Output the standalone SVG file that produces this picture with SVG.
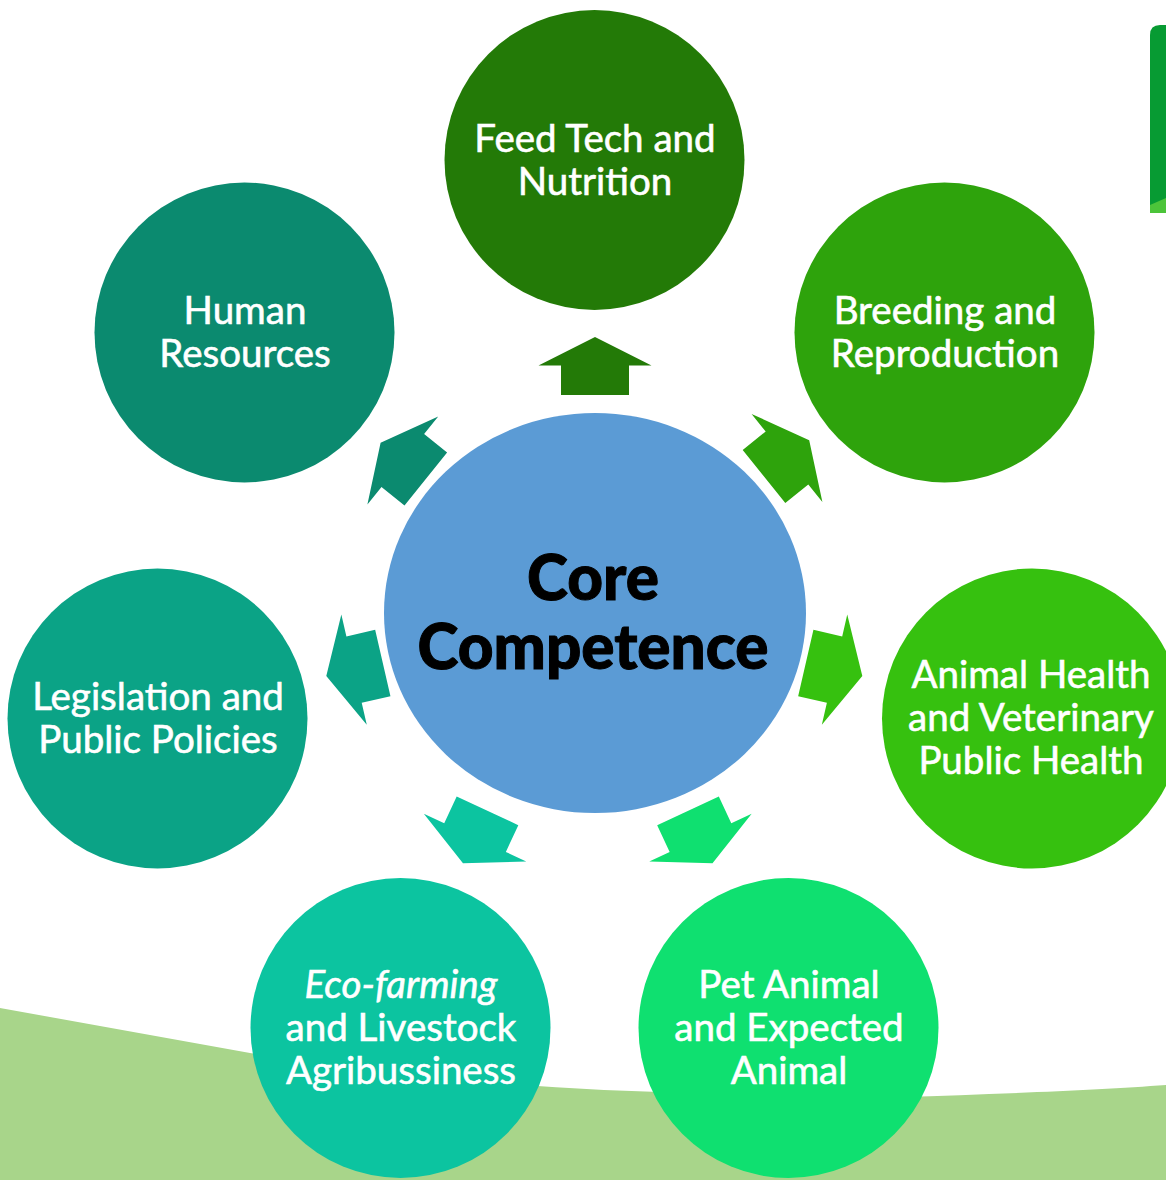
<svg xmlns="http://www.w3.org/2000/svg" width="1166" height="1180" viewBox="0 0 1166 1180">
<style>
.lbl{font-family:Lato,"Noto Sans","DejaVu Sans",sans-serif;font-size:38.5px;fill:#ffffff;stroke:#ffffff;stroke-width:0.6px;text-anchor:middle}
.core{font-family:Lato,"Noto Sans","DejaVu Sans",sans-serif;font-size:62px;font-weight:900;fill:#000000;stroke:#000000;stroke-width:1px;text-anchor:middle}
</style>
<defs>
<path id="arr" d="M-34,0 L-34,-29.5 L-56.5,-29.5 L0,-58 L56.5,-29.5 L34,-29.5 L34,0 Z"/>
</defs>
<rect width="1166" height="1180" fill="#ffffff"/>
<path d="M0,1008 L250,1053 C400,1078 550,1090 700,1093 L900,1097 C1000,1094 1100,1090 1166,1085 L1166,1180 L0,1180 Z" fill="#a8d58a"/>
<path d="M1150,35 Q1150,25 1160,25 L1166,25 L1166,213 L1150,213 Z" fill="#079b33"/>
<path d="M1150,213 L1150,205 L1166,198 L1166,213 Z" fill="#4cc43a"/>
<g id="connectors">
<use href="#arr" transform="translate(595,395)" fill="#237a07"/>
<use href="#arr" transform="translate(764,476.5) rotate(51.2)" fill="#2ea30c"/>
<use href="#arr" transform="translate(425.8,479) rotate(-51.2)" fill="#0b8a6f"/>
<use href="#arr" transform="translate(382.8,663) rotate(-103)" fill="#0ba386"/>
<use href="#arr" transform="translate(805.8,663) rotate(103)" fill="#36c10f"/>
<use href="#arr" transform="translate(487.5,810.8) rotate(-155)" fill="#0cc4a0"/>
<use href="#arr" transform="translate(688,810.8) rotate(155)" fill="#0fe070"/>
</g>
<g id="core">
<ellipse cx="595" cy="613" rx="211" ry="200" fill="#5b9bd5"/>
<text class="core" x="593" y="600">Core</text>
<text class="core" x="593" y="669">Competence</text>
</g>
<g id="feed">
<circle cx="594.5" cy="160" r="150" fill="#237a07"/>
<text class="lbl" x="595" y="152">Feed Tech and</text>
<text class="lbl" x="595" y="195">Nutrition</text>
</g>
<g id="breeding">
<circle cx="944.5" cy="332.5" r="150" fill="#2ea30c"/>
<text class="lbl" x="945" y="324">Breeding and</text>
<text class="lbl" x="945" y="367">Reproduction</text>
</g>
<g id="human">
<circle cx="244.5" cy="332.5" r="150" fill="#0b8a6f"/>
<text class="lbl" x="245" y="324">Human</text>
<text class="lbl" x="245" y="367">Resources</text>
</g>
<g id="legislation">
<circle cx="157.5" cy="718.5" r="150" fill="#0ba386"/>
<text class="lbl" x="158" y="710">Legislation and</text>
<text class="lbl" x="158" y="753">Public Policies</text>
</g>
<g id="animalhealth">
<circle cx="1032" cy="718.5" r="150" fill="#36c10f"/>
<text class="lbl" x="1031" y="688">Animal Health</text>
<text class="lbl" x="1031" y="731">and Veterinary</text>
<text class="lbl" x="1031" y="774">Public Health</text>
</g>
<g id="ecofarming">
<circle cx="400.5" cy="1028" r="150" fill="#0cc4a0"/>
<text class="lbl" x="401" y="998" font-style="italic">Eco-farming</text>
<text class="lbl" x="401" y="1041">and Livestock</text>
<text class="lbl" x="401" y="1084">Agribussiness</text>
</g>
<g id="pet">
<circle cx="788.5" cy="1028" r="150" fill="#0fe070"/>
<text class="lbl" x="789" y="998">Pet Animal</text>
<text class="lbl" x="789" y="1041">and Expected</text>
<text class="lbl" x="789" y="1084">Animal</text>
</g>
</svg>
